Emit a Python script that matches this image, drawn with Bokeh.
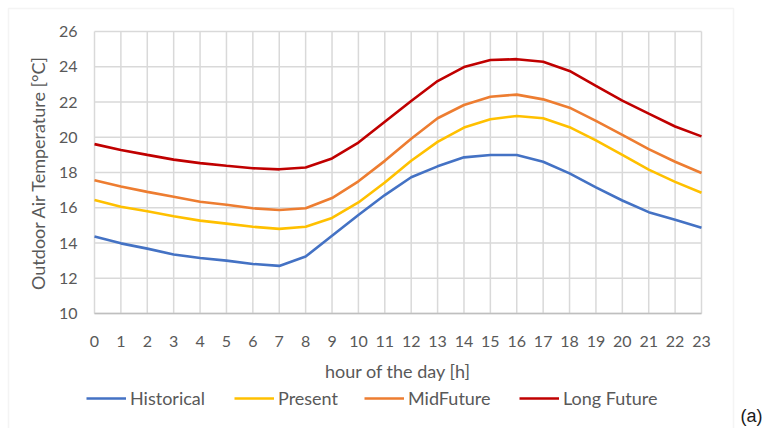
import math
from bokeh.plotting import figure
from bokeh.models import Range1d, Legend, LegendItem, Label, BoxAnnotation
from bokeh.core.properties import value
from bokeh.embed import file_html
from bokeh.resources import INLINE

hours = list(range(24))
historical = [14.37, 13.98, 13.68, 13.35, 13.15, 13.00, 12.81, 12.70, 13.23, 14.41, 15.59, 16.72,
              17.73, 18.35, 18.86, 18.99, 18.99, 18.61, 17.95, 17.16, 16.41, 15.75, 15.32, 14.87]
present = [16.44, 16.06, 15.80, 15.52, 15.27, 15.10, 14.92, 14.80, 14.92, 15.42, 16.30, 17.43,
           18.67, 19.74, 20.55, 21.02, 21.21, 21.08, 20.57, 19.82, 19.00, 18.16, 17.47, 16.85]
midfuture = [17.56, 17.20, 16.90, 16.62, 16.34, 16.17, 15.97, 15.87, 15.97, 16.55, 17.50, 18.66,
             19.92, 21.08, 21.83, 22.30, 22.42, 22.15, 21.68, 20.93, 20.14, 19.33, 18.61, 17.97]
longfuture = [19.61, 19.28, 19.00, 18.73, 18.53, 18.38, 18.24, 18.18, 18.28, 18.80, 19.70, 20.88,
              22.06, 23.19, 23.98, 24.38, 24.43, 24.28, 23.76, 22.91, 22.08, 21.34, 20.61, 20.05]
series_names = ["Historical", "Present", "MidFuture", "Long Future"]
series_colors = ["#4472C4", "#FFC000", "#ED7D31", "#C00000"]
y_ticks = list(range(10, 27, 2))
x_tick_labels = [str(h) for h in hours]
y_tick_labels = [str(t) for t in y_ticks]
x_title = "hour of the day [h]"
y_title = "Outdoor Air Temperature [°C]"
panel_tag = "(a)"

FONT = "Lato"
TXT = "#595959"
GRID = "#D9D9D9"
W, H = 769, 428
# plot-area placement inside the canvas (pixels)
PL, PR, PT, PB = 94, 701, 31, 313

xmin, xmax = hours[0], hours[-1]
ymin, ymax = y_ticks[0], y_ticks[-1]
sx = (PR - PL) / (xmax - xmin)
sy = (PB - PT) / (ymax - ymin)

p = figure(width=W, height=H, output_backend="svg", toolbar_location=None,
           x_axis_location=None, y_axis_location=None,
           x_range=Range1d(xmin - PL / sx, xmax + (W - PR) / sx),
           y_range=Range1d(ymin - (H - PB) / sy, ymax + PT / sy),
           min_border_left=0, min_border_right=0, min_border_top=0, min_border_bottom=0)
p.outline_line_color = None
p.grid.visible = False

# grid lines at tick positions
p.segment(x0=hours, x1=hours, y0=[ymin] * len(hours), y1=[ymax] * len(hours),
          line_color=GRID, line_width=1.5)
p.segment(x0=[xmin] * len(y_ticks), x1=[xmax] * len(y_ticks), y0=y_ticks, y1=y_ticks,
          line_color=GRID, line_width=1.5)
# category axis line
p.segment(x0=[xmin], x1=[xmax], y0=[ymin], y1=[ymin], line_color="#BFBFBF", line_width=1.5)

# tick labels
p.text(x=hours, y=[ymin] * len(hours), text=x_tick_labels, text_align="center",
       text_baseline="middle", y_offset=28, text_font=value(FONT), text_font_size="16px",
       text_color=TXT)
p.text(x=[xmin] * len(y_ticks), y=y_ticks, text=y_tick_labels, text_align="right",
       text_baseline="middle", x_offset=-17, text_font=value(FONT), text_font_size="16px",
       text_color=TXT)
# axis titles
p.text(x=[(xmin + xmax) / 2], y=[ymin], text=[x_title], text_align="center",
       text_baseline="middle", y_offset=57, text_font=value(FONT), text_font_size="18px",
       text_color=TXT)
p.text(x=[xmin], y=[(ymin + ymax) / 2], text=[y_title], text_align="center",
       text_baseline="middle", angle=math.pi / 2, x_offset=-57, text_font=value(FONT),
       text_font_size="18px", text_color=TXT)

renderers = []
for name, data, col in zip(series_names, [historical, present, midfuture, longfuture], series_colors):
    r = p.line(hours, data, line_color=col, line_width=2.6)
    renderers.append(r)

legend_x = [86, 234, 364, 519]
for r, name, lx in zip(renderers, series_names, legend_x):
    lg = Legend(items=[LegendItem(label=name, renderers=[r])], location=(lx, 19),
                orientation="horizontal", padding=0, margin=0, spacing=0,
                glyph_width=40, glyph_height=20, label_standoff=4,
                label_text_font=FONT, label_text_font_size="18px", label_text_color=TXT,
                border_line_alpha=0, background_fill_alpha=0)
    p.add_layout(lg, "center")

p.add_layout(Label(x=740, y=3, x_units="screen", y_units="screen", text=panel_tag,
                   text_font="Liberation Sans", text_font_size="18px", text_color="#1a1a1a",
                   text_baseline="bottom"))

p.add_layout(BoxAnnotation(left=8, right=733, top=H - 8, bottom=-20,
                           left_units="screen", right_units="screen",
                           top_units="screen", bottom_units="screen",
                           fill_alpha=0, line_color=GRID, line_width=1.5))

open("out.html", "w").write(file_html(p, INLINE))
